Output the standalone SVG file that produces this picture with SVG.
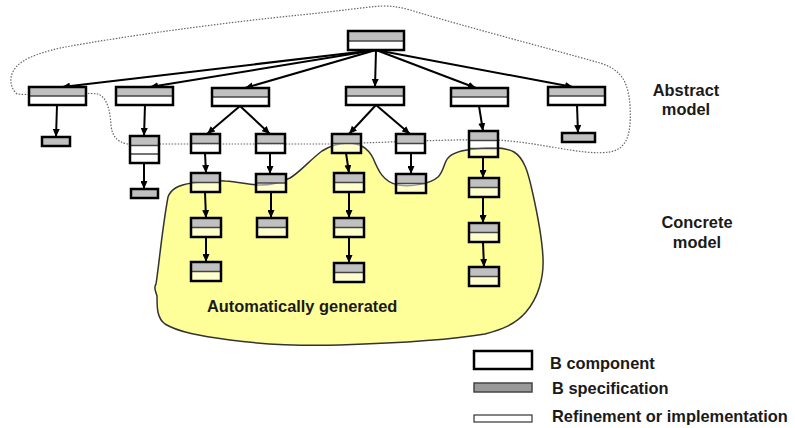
<svg xmlns="http://www.w3.org/2000/svg" width="795" height="428" viewBox="0 0 795 428">
<defs>
<style>
.g{fill:#c0c0c0}
.w{fill:#fff;fill-opacity:.5}
.dv{stroke:#444;stroke-width:1.5}
.b{fill:none;stroke:#000;stroke-width:2.5}
.s{fill:#c0c0c0;stroke:#000;stroke-width:2.5}
.c{stroke:#000;stroke-width:2;fill:none;marker-end:url(#ah)}
.t{font-family:"Liberation Sans",Arial,sans-serif;font-weight:bold;font-size:16.4px;fill:#1a1a1a}
</style>
<marker id="ah" viewBox="0 0 8 7" refX="8" refY="3.5" markerWidth="8" markerHeight="7" markerUnits="userSpaceOnUse" orient="auto"><path d="M0,0L8,3.5L0,7z" fill="#000"/></marker>
</defs>
<rect width="795" height="428" fill="#fff"/>
<g id="concrete-region">
<path d="M168,197 C171,189 178,185 192,183 C205,181 215,180 225,181 C240,182 250,185 260,185 C272,185 282,182 290,178 C300,172 310,160 322,151 C330,146 338,143 348,143 C360,143 368,148 373,158 C378,170 383,182 398,185 C412,187 430,184 438,177 C444,171 444,162 448,158 C453,152 462,150 475,149 C490,147 505,147 514,152 C524,158 528,172 532,190 C537,212 542,235 543,258 C544,278 538,298 526,312 C515,325 500,330 485,334 C450,340 400,343 340,345 C300,346 260,344 230,340 C200,336 178,332 165,324 C157,318 157,308 157,296 C155,290 154,287 156,284 C159,265 162,230 168,197 Z" fill="#ffff99" stroke="#333" stroke-width="1.5"/>
</g>
<g id="abstract-region">
<path d="M17,94 C10,88 9,77 14,70 C20,60 35,54 60,48 C130,35 230,22 300,15 C340,11 365,7 382,6 C392,6 400,7 410,10 C470,28 540,46 600,63 C622,70 628,82 630,105 C631,125 630,140 620,148 C610,155 590,153 570,150 C545,146 520,141 495,140 C450,139 400,142 330,144 L128,144 C116,142 112,135 111,125 C110,112 108,98 98,94 C80,92 40,96 17,94 Z" fill="none" stroke="#666" stroke-width="1.2" stroke-dasharray="1.5 1.5"/>
</g>
<g id="connectors">
<line class="c" x1="376" y1="50" x2="62" y2="87"/>
<line class="c" x1="376" y1="50" x2="150" y2="87"/>
<line class="c" x1="376" y1="50" x2="245" y2="88"/>
<line class="c" x1="376" y1="50" x2="375" y2="87"/>
<line class="c" x1="376" y1="50" x2="476" y2="88"/>
<line class="c" x1="376" y1="50" x2="573" y2="87"/>
<line class="c" x1="57" y1="105" x2="56" y2="137"/>
<line class="c" x1="145" y1="105" x2="144" y2="136"/>
<line class="c" x1="144" y1="163" x2="144" y2="189"/>
<line class="c" x1="240" y1="106" x2="207" y2="134"/>
<line class="c" x1="240" y1="106" x2="270" y2="134"/>
<line class="c" x1="205" y1="153" x2="206" y2="173"/>
<line class="c" x1="270" y1="153" x2="270" y2="174"/>
<line class="c" x1="376" y1="105" x2="349" y2="134"/>
<line class="c" x1="376" y1="105" x2="410" y2="134"/>
<line class="c" x1="346" y1="153" x2="349" y2="173"/>
<line class="c" x1="411" y1="153" x2="411" y2="174"/>
<line class="c" x1="479" y1="106" x2="483" y2="131"/>
<line class="c" x1="483" y1="157" x2="483" y2="178"/>
<line class="c" x1="577" y1="105" x2="578" y2="133"/>
<line class="c" x1="205" y1="192" x2="206" y2="218"/>
<line class="c" x1="206" y1="237" x2="206" y2="262"/>
<line class="c" x1="271" y1="192" x2="271" y2="218"/>
<line class="c" x1="349" y1="192" x2="349" y2="218"/>
<line class="c" x1="349" y1="237" x2="349" y2="263"/>
<line class="c" x1="483" y1="197" x2="483" y2="223"/>
<line class="c" x1="483" y1="242" x2="484" y2="267"/>
</g>
<g id="n-top"><rect class="g" x="348" y="31" width="56" height="10"/><rect class="w" x="348" y="41" width="56" height="9"/><line class="dv" x1="348" y1="41" x2="404" y2="41"/><rect class="b" x="348" y="31" width="56" height="19"/></g>
<g id="n1"><rect class="g" x="29" y="87" width="57" height="9"/><rect class="w" x="29" y="96" width="57" height="9"/><line class="dv" x1="29" y1="96" x2="86" y2="96"/><rect class="b" x="29" y="87" width="57" height="18"/></g>
<g id="n2"><rect class="g" x="116" y="87" width="57" height="9"/><rect class="w" x="116" y="96" width="57" height="9"/><line class="dv" x1="116" y1="96" x2="173" y2="96"/><rect class="b" x="116" y="87" width="57" height="18"/></g>
<g id="n3"><rect class="g" x="212" y="88" width="57" height="9"/><rect class="w" x="212" y="97" width="57" height="9"/><line class="dv" x1="212" y1="97" x2="269" y2="97"/><rect class="b" x="212" y="88" width="57" height="18"/></g>
<g id="n4"><rect class="g" x="346" y="87" width="58" height="9"/><rect class="w" x="346" y="96" width="58" height="9"/><line class="dv" x1="346" y1="96" x2="404" y2="96"/><rect class="b" x="346" y="87" width="58" height="18"/></g>
<g id="n5"><rect class="g" x="451" y="88" width="57" height="9"/><rect class="w" x="451" y="97" width="57" height="9"/><line class="dv" x1="451" y1="97" x2="508" y2="97"/><rect class="b" x="451" y="88" width="57" height="18"/></g>
<g id="n6"><rect class="g" x="548" y="87" width="57" height="9"/><rect class="w" x="548" y="96" width="57" height="9"/><line class="dv" x1="548" y1="96" x2="605" y2="96"/><rect class="b" x="548" y="87" width="57" height="18"/></g>
<g id="s1"><rect class="s" x="42" y="137" width="28" height="9"/></g>
<g id="s2"><rect class="s" x="131" y="189" width="27" height="9"/></g>
<g id="s6"><rect class="s" x="562" y="133" width="33" height="9"/></g>
<g id="n2c"><rect class="g" x="130" y="136" width="29" height="9.5"/><rect class="w" x="130" y="145.5" width="29" height="17.5"/><line class="dv" x1="130" y1="145.5" x2="159" y2="145.5"/><line class="dv" x1="130" y1="154" x2="159" y2="154"/><rect class="b" x="130" y="136" width="29" height="27"/></g>
<g id="a1"><rect class="g" x="191" y="134" width="29" height="9.5"/><rect class="w" x="191" y="143.5" width="29" height="9.5"/><line class="dv" x1="191" y1="143.5" x2="220" y2="143.5"/><rect class="b" x="191" y="134" width="29" height="19"/></g>
<g id="b1"><rect class="g" x="256" y="134" width="29" height="9.5"/><rect class="w" x="256" y="143.5" width="29" height="9.5"/><line class="dv" x1="256" y1="143.5" x2="285" y2="143.5"/><rect class="b" x="256" y="134" width="29" height="19"/></g>
<g id="c1"><rect class="g" x="332" y="134" width="29" height="9.5"/><rect class="w" x="332" y="143.5" width="29" height="9.5"/><line class="dv" x1="332" y1="143.5" x2="361" y2="143.5"/><rect class="b" x="332" y="134" width="29" height="19"/></g>
<g id="d1"><rect class="g" x="396" y="134" width="29" height="9.5"/><rect class="w" x="396" y="143.5" width="29" height="9.5"/><line class="dv" x1="396" y1="143.5" x2="425" y2="143.5"/><rect class="b" x="396" y="134" width="29" height="19"/></g>
<g id="e1"><rect class="g" x="469" y="131" width="29" height="9.5"/><rect class="w" x="469" y="140.5" width="29" height="16.5"/><line class="dv" x1="469" y1="140.5" x2="498" y2="140.5"/><line class="dv" x1="469" y1="148.5" x2="498" y2="148.5"/><rect class="b" x="469" y="131" width="29" height="26"/></g>
<g id="a2"><rect class="g" x="191" y="173" width="29" height="9.5"/><rect class="w" x="191" y="182.5" width="29" height="9.5"/><line class="dv" x1="191" y1="182.5" x2="220" y2="182.5"/><rect class="b" x="191" y="173" width="29" height="19"/></g>
<g id="b2"><rect class="g" x="256" y="174" width="30" height="9"/><rect class="w" x="256" y="183" width="30" height="9"/><line class="dv" x1="256" y1="183" x2="286" y2="183"/><rect class="b" x="256" y="174" width="30" height="18"/></g>
<g id="c2"><rect class="g" x="334" y="173" width="30" height="9.5"/><rect class="w" x="334" y="182.5" width="30" height="9.5"/><line class="dv" x1="334" y1="182.5" x2="364" y2="182.5"/><rect class="b" x="334" y="173" width="30" height="19"/></g>
<g id="d2"><rect class="g" x="396" y="174" width="30" height="9.5"/><rect class="w" x="396" y="183.5" width="30" height="9.5"/><line class="dv" x1="396" y1="183.5" x2="426" y2="183.5"/><rect class="b" x="396" y="174" width="30" height="19"/></g>
<g id="e2"><rect class="g" x="469" y="178" width="30" height="9.5"/><rect class="w" x="469" y="187.5" width="30" height="9.5"/><line class="dv" x1="469" y1="187.5" x2="499" y2="187.5"/><rect class="b" x="469" y="178" width="30" height="19"/></g>
<g id="a3"><rect class="g" x="191" y="218" width="30" height="9.5"/><rect class="w" x="191" y="227.5" width="30" height="9.5"/><line class="dv" x1="191" y1="227.5" x2="221" y2="227.5"/><rect class="b" x="191" y="218" width="30" height="19"/></g>
<g id="b3"><rect class="g" x="257" y="218" width="30" height="9.5"/><rect class="w" x="257" y="227.5" width="30" height="9.5"/><line class="dv" x1="257" y1="227.5" x2="287" y2="227.5"/><rect class="b" x="257" y="218" width="30" height="19"/></g>
<g id="c3"><rect class="g" x="334" y="218" width="30" height="9.5"/><rect class="w" x="334" y="227.5" width="30" height="9.5"/><line class="dv" x1="334" y1="227.5" x2="364" y2="227.5"/><rect class="b" x="334" y="218" width="30" height="19"/></g>
<g id="e3"><rect class="g" x="469" y="223" width="30" height="9.5"/><rect class="w" x="469" y="232.5" width="30" height="9.5"/><line class="dv" x1="469" y1="232.5" x2="499" y2="232.5"/><rect class="b" x="469" y="223" width="30" height="19"/></g>
<g id="a4"><rect class="g" x="191" y="262" width="30" height="9.5"/><rect class="w" x="191" y="271.5" width="30" height="9.5"/><line class="dv" x1="191" y1="271.5" x2="221" y2="271.5"/><rect class="b" x="191" y="262" width="30" height="19"/></g>
<g id="c4"><rect class="g" x="334" y="263" width="30" height="9.5"/><rect class="w" x="334" y="272.5" width="30" height="9.5"/><line class="dv" x1="334" y1="272.5" x2="364" y2="272.5"/><rect class="b" x="334" y="263" width="30" height="19"/></g>
<g id="e4"><rect class="g" x="469" y="267" width="30" height="9.5"/><rect class="w" x="469" y="276.5" width="30" height="9.5"/><line class="dv" x1="469" y1="276.5" x2="499" y2="276.5"/><rect class="b" x="469" y="267" width="30" height="19"/></g>
<g id="labels">
<text class="t" x="207" y="312">Automatically generated</text>
<text class="t" x="686" y="96" text-anchor="middle">Abstract</text>
<text class="t" x="686" y="115" text-anchor="middle">model</text>
<text class="t" x="697" y="228" text-anchor="middle">Concrete</text>
<text class="t" x="697" y="248" text-anchor="middle">model</text>
</g>
<g id="legend">
<rect x="474" y="351" width="58" height="18" fill="#fff" stroke="#000" stroke-width="2.5"/>
<rect x="474" y="383" width="58" height="9" fill="#999" stroke="#444" stroke-width="1.5"/>
<rect x="474" y="415" width="58" height="7" fill="#fff" stroke="#333" stroke-width="1.2"/>
<text class="t" x="550" y="369">B component</text>
<text class="t" x="552" y="394">B specification</text>
<text class="t" x="552" y="422">Refinement or implementation</text>
</g>
</svg>
